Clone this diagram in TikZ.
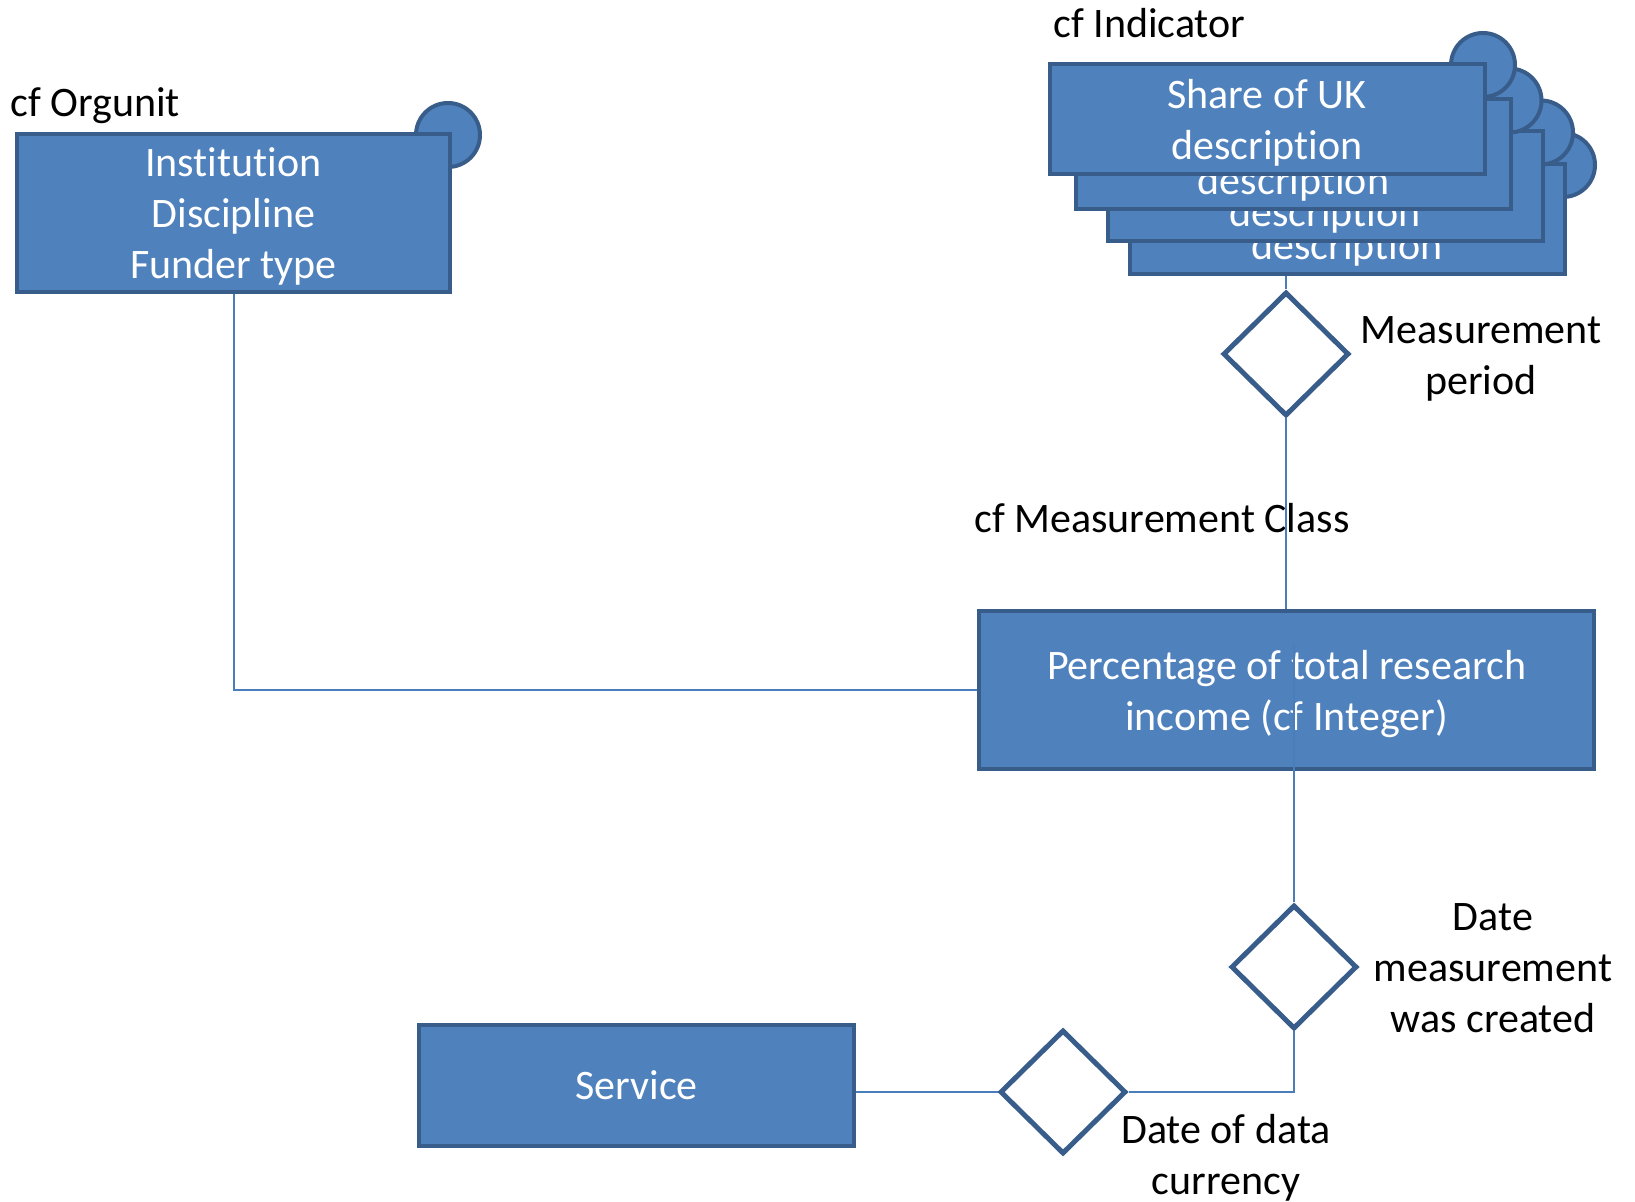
\documentclass[tikz,border=0pt]{standalone}
\usepackage{fontspec}
\setmainfont{Carlito}[Ligatures={NoCommon,NoRare}]
\usepackage{tikz}
\usetikzlibrary{shapes.geometric,positioning}

\definecolor{boxfill}{HTML}{4F81BD}
\definecolor{boxline}{HTML}{385D8A}
\definecolor{linkline}{HTML}{4A7EBB}

\begin{document}
\begin{tikzpicture}[x=0.5pt, y=-0.5pt,
    every node/.style={font=\fontsize{21}{25.5}\selectfont},
    entbox/.style={draw=boxline, line width=2pt, fill=boxfill, text=white, align=center, inner sep=0pt, text depth=0pt},
    entcirc/.style={draw=boxline, line width=2pt, fill=boxfill},
    relshape/.style={diamond, draw=boxline, line width=2.5pt, fill=white, inner sep=0pt, minimum width=63pt, minimum height=62pt},
    label/.style={align=center, inner sep=0pt},
    link/.style={draw=linkline, line width=1pt}]
\useasboundingbox (0,0) rectangle (1635,1202);

% Orgunit entity
\draw[entcirc] (448,135) circle (16pt);
\node[entbox, minimum width=216.5pt, minimum height=79pt] (org) at (233.5,213) {Institution\\Discipline\\Funder type};
\node[label, anchor=west] (orglbl) at (10,106) {cf Orgunit};

% Indicator stack, back to front
\foreach \i/\cx/\cy in {4/1347/219, 3/1325/186.5, 2/1293.5/154.5, 1/1267/119} {
    \draw[entcirc] (\cx+216,\cy-54) circle (16pt);
    \node[entbox, minimum width=217.5pt, minimum height=55pt] (ind\i) at (\cx,\cy) {Share of UK\\description};
}
\node[label, anchor=west] (indlbl) at (1053,23) {cf Indicator};

% Measurement
\node[entbox, minimum width=307.5pt, minimum height=79pt] (meas) at (1286.5,690) {Percentage of total research\\income (cf Integer)};
\node[label] (measlbl) at (1162,518) {cf Measurement Class};

% Service
\node[entbox, minimum width=217.5pt, minimum height=60.5pt] (serv) at (636.5,1085.5) {Service};

% Relations
\node[relshape] (period) at (1286,354) {};
\node[label] (periodlbl) at (1481,359) {Measurement\\period};
\node[relshape] (created) at (1294,967) {};
\node[label] (createdlbl) at (1493,968) {Date\\measurement\\was created};
\node[relshape] (currency) at (1063,1092) {};
\node[label] (currencylbl) at (1226,1158) {Date of data\\currency};

% Links
\coordinate (measlead) at (1294,645);
\draw[link] (org.south) |- (meas.west);
\draw[link] (period.north) -- (period.north |- ind4.south);
\draw[link] (period.south) -- (period.south |- meas.north);
\draw[link] (measlead) -- (created.north);
\draw[link] (created.south) |- (currency.east);
\draw[link] (currency.west) -- (currency.west -| serv.east);

\end{tikzpicture}
\end{document}
